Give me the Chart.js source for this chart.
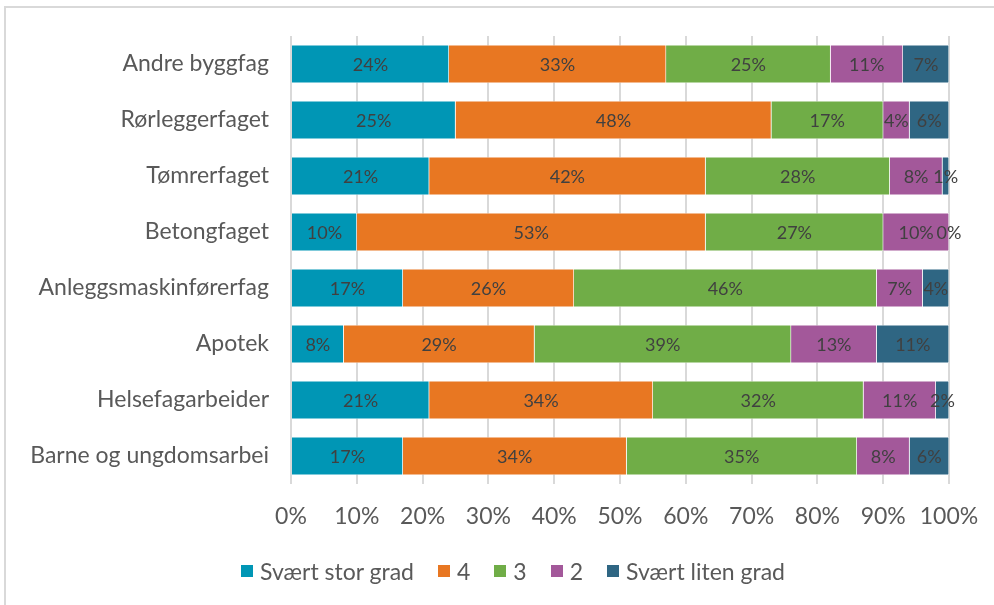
<!DOCTYPE html>
<html lang="no">
<head>
<meta charset="UTF-8">
<title>Grad</title>
<script src="https://cdn.jsdelivr.net/npm/chart.js"></script>
<style>
    html, body { margin: 0; padding: 0; background: #fff; overflow: hidden; }
    .ramme {
        position: absolute;
        left: 4px; top: 6px;
        width: 1000px; height: 620px;
        border: 2px solid #d9d9d9;
    }
    #wrap { position: absolute; left: 0; top: 0; width: 994px; height: 605px; }
    #forklaring {
        position: absolute;
        left: 241px; top: 557px;
        display: flex;
        align-items: center;
        font-family: Lato, "Liberation Sans", sans-serif;
        font-size: 23px;
        color: #595959;
        white-space: nowrap;
    }
    #forklaring .post { display: flex; align-items: center; margin-right: 24px; }
    #forklaring .boks { width: 12px; height: 12px; margin-right: 7px; }
</style>
</head>
<body>
<div class="ramme"></div>
<div id="wrap"><canvas id="graf"></canvas></div>
<div id="forklaring"></div>
<script>
    const fag = ['Andre byggfag', 'Rørleggerfaget', 'Tømrerfaget', 'Betongfaget',
                 'Anleggsmaskinførerfag', 'Apotek', 'Helsefagarbeider', 'Barne og ungdomsarbei'];
    const grader = ['Svært stor grad', '4', '3', '2', 'Svært liten grad'];
    const svaertStor = [24, 25, 21, 10, 17, 8, 21, 17];
    const grad4      = [33, 48, 42, 53, 26, 29, 34, 34];
    const grad3      = [25, 17, 28, 27, 46, 39, 32, 35];
    const grad2      = [11, 4, 8, 10, 7, 13, 11, 8];
    const svaertLiten = [7, 6, 1, 0, 4, 11, 2, 6];
    const farger = ['#0096b5', '#e87722', '#70ad47', '#a3589a', '#2f6683'];

    const FONT = 'Lato, "Liberation Sans", sans-serif';

    // prosenttall midt i hvert segment
    const etiketter = {
        id: 'etiketter',
        afterDatasetsDraw(chart) {
            const c = chart.ctx;
            c.save();
            c.font = '18px ' + FONT;
            c.fillStyle = '#404040';
            c.textAlign = 'center';
            c.textBaseline = 'middle';
            chart.data.datasets.forEach((ds, i) => {
                chart.getDatasetMeta(i).data.forEach((bar, j) => {
                    const x = (bar.x + bar.base) / 2;
                    c.fillText(ds.data[j] + '%', x, bar.y + 1);
                });
            });
            c.restore();
        }
    };

    const serier = [svaertStor, grad4, grad3, grad2, svaertLiten];

    const chart = new Chart(document.getElementById('graf'), {
        type: 'bar',
        data: {
            labels: fag,
            datasets: serier.map((d, i) => ({
                label: grader[i],
                data: d,
                backgroundColor: farger[i],
                borderColor: '#ffffff',
                borderWidth: 0.6,
                barPercentage: 0.68,
                categoryPercentage: 1
            }))
        },
        options: {
            indexAxis: 'y',
            responsive: true,
            maintainAspectRatio: false,
            animation: false,
            layout: { padding: { top: 36, right: 45, bottom: 0, left: 0 } },
            scales: {
                x: {
                    stacked: true,
                    min: 0, max: 100,
                    border: { display: false },
                    grid: { color: '#d9d9d9', lineWidth: 2, drawTicks: false },
                    afterFit: s => { s.height = 121; s.paddingLeft = 0; s.paddingRight = 0; },
                    ticks: {
                        stepSize: 10,
                        padding: 19,
                        color: '#595959',
                        font: { family: FONT, size: 23 },
                        callback: v => v + '%'
                    }
                },
                y: {
                    stacked: true,
                    border: { display: false },
                    grid: { display: false, drawTicks: false },
                    afterFit: s => { s.width = 291; },
                    ticks: {
                        padding: 22,
                        color: '#595959',
                        font: { family: FONT, size: 23 }
                    }
                }
            },
            plugins: {
                legend: { display: false },
                tooltip: { enabled: false }
            }
        },
        plugins: [etiketter]
    });

    // forklaring under grafen
    const forklaring = document.getElementById('forklaring');
    chart.data.datasets.forEach(ds => {
        const post = document.createElement('div');
        post.className = 'post';
        post.innerHTML = `<span class="boks" style="background:${ds.backgroundColor}"></span><span>${ds.label}</span>`;
        forklaring.appendChild(post);
    });
</script>
</body>
</html>
